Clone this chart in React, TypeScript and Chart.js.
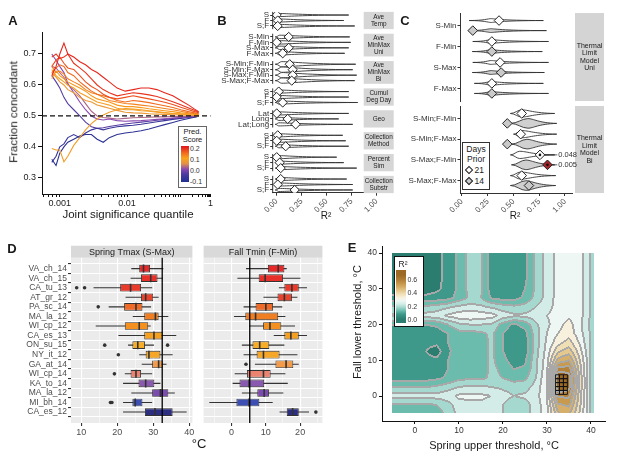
import React, { useEffect, useRef } from 'react';
import { Chart, registerables, LogarithmicScale } from 'chart.js';

Chart.register(...registerables);

const FONT = "'Liberation Sans', Arial, Helvetica, sans-serif";
Chart.defaults.font.family = FONT;
Chart.defaults.color = '#333';

// quantile axis (compressed log) used by panel A
const QUANT_POW = 1.46;
class QuantileScale extends (LogarithmicScale as any) {
  static id = 'quantile';
  static defaults = {};
  tf(v: number) {
    const c = Math.min(Math.max(v, 1e-12), 1);
    return -Math.pow(-Math.log10(c), QUANT_POW);
  }
  getPixelForValue(value: number) {
    if (value === null || value === undefined || isNaN(value)) return NaN;
    const a = this.tf(this.min), b = this.tf(this.max);
    return this.getPixelForDecimal((this.tf(value) - a) / (b - a));
  }
  getValueForPixel(pixel: number) {
    const a = this.tf(this.min), b = this.tf(this.max);
    const t = a + this.getDecimalForPixel(pixel) * (b - a);
    return Math.pow(10, -Math.pow(Math.max(-t, 0), 1 / QUANT_POW));
  }
}
Chart.register(QuantileScale as any);

// ================= Panel A data =================
const aQuantiles = [0.00078, 0.00089, 0.001, 0.00114, 0.00129, 0.00156, 0.0019, 0.0023, 0.0028, 0.0034, 0.0042, 0.0052, 0.0069, 0.0093, 0.0126, 0.0172, 0.0238, 0.0333, 0.047, 0.069, 0.103, 0.159, 0.227, 0.3];
const aScores = [0.2, 0.19, 0.17, 0.15, 0.13, 0.11, 0.09, 0.07, 0.085, 0.0, 0.02, -0.1, -0.08, -0.04];
const aSeries = [
  [0.63, 0.66, 0.70, 0.735, 0.70, 0.69, 0.675, 0.665, 0.65, 0.64, 0.625, 0.61, 0.59, 0.58, 0.585, 0.59, 0.59, 0.585, 0.575, 0.565, 0.55, 0.535, 0.522, 0.514],
  [0.69, 0.70, 0.685, 0.69, 0.70, 0.67, 0.655, 0.64, 0.62, 0.60, 0.585, 0.575, 0.565, 0.57, 0.575, 0.572, 0.568, 0.563, 0.555, 0.546, 0.536, 0.526, 0.518, 0.512],
  [0.66, 0.68, 0.69, 0.67, 0.655, 0.65, 0.63, 0.61, 0.595, 0.585, 0.57, 0.56, 0.555, 0.56, 0.565, 0.56, 0.555, 0.55, 0.544, 0.537, 0.528, 0.52, 0.514, 0.51],
  [0.64, 0.655, 0.665, 0.66, 0.64, 0.63, 0.61, 0.595, 0.58, 0.57, 0.565, 0.56, 0.55, 0.545, 0.55, 0.547, 0.543, 0.538, 0.533, 0.527, 0.52, 0.514, 0.51, 0.507],
  [0.66, 0.64, 0.645, 0.635, 0.62, 0.61, 0.6, 0.585, 0.575, 0.57, 0.56, 0.55, 0.545, 0.54, 0.538, 0.535, 0.532, 0.528, 0.524, 0.52, 0.515, 0.51, 0.507, 0.505],
  [0.62, 0.645, 0.63, 0.62, 0.61, 0.6, 0.59, 0.58, 0.565, 0.555, 0.55, 0.545, 0.535, 0.53, 0.53, 0.527, 0.523, 0.52, 0.517, 0.514, 0.51, 0.507, 0.505, 0.503],
  [0.65, 0.63, 0.62, 0.61, 0.6, 0.59, 0.575, 0.565, 0.555, 0.545, 0.54, 0.535, 0.525, 0.52, 0.52, 0.517, 0.515, 0.512, 0.51, 0.508, 0.506, 0.504, 0.502, 0.501],
  [0.64, 0.625, 0.61, 0.6, 0.585, 0.575, 0.56, 0.55, 0.545, 0.535, 0.53, 0.525, 0.518, 0.512, 0.51, 0.509, 0.507, 0.506, 0.505, 0.504, 0.503, 0.502, 0.501, 0.5],
  [0.395, 0.39, 0.39, 0.352, 0.37, 0.405, 0.43, 0.455, 0.475, 0.49, 0.503, 0.512, 0.52, 0.524, 0.522, 0.52, 0.517, 0.514, 0.511, 0.508, 0.506, 0.504, 0.502, 0.501],
  [0.70, 0.68, 0.66, 0.64, 0.605, 0.575, 0.545, 0.52, 0.5, 0.49, 0.487, 0.49, 0.485, 0.483, 0.484, 0.485, 0.487, 0.489, 0.491, 0.493, 0.495, 0.497, 0.498, 0.499],
  [0.66, 0.655, 0.64, 0.625, 0.6, 0.585, 0.565, 0.54, 0.515, 0.5, 0.495, 0.493, 0.49, 0.492, 0.494, 0.495, 0.496, 0.497, 0.497, 0.498, 0.498, 0.499, 0.499, 0.5],
  [0.36, 0.34, 0.38, 0.40, 0.415, 0.425, 0.435, 0.44, 0.44, 0.425, 0.415, 0.43, 0.44, 0.445, 0.448, 0.452, 0.458, 0.465, 0.472, 0.479, 0.486, 0.492, 0.496, 0.499],
  [0.35, 0.37, 0.40, 0.41, 0.43, 0.44, 0.43, 0.445, 0.455, 0.46, 0.455, 0.46, 0.465, 0.468, 0.47, 0.473, 0.477, 0.481, 0.485, 0.489, 0.492, 0.495, 0.497, 0.499],
  [0.63, 0.61, 0.59, 0.56, 0.54, 0.52, 0.5, 0.48, 0.465, 0.46, 0.462, 0.466, 0.47, 0.474, 0.477, 0.48, 0.483, 0.486, 0.489, 0.492, 0.494, 0.496, 0.498, 0.499],
];
const aChance = 0.5;
const aYTicks = [0.3, 0.4, 0.5, 0.6, 0.7];
const aXTicks = [0.0006, 0.0007, 0.0008, 0.0009, 0.001, 0.002, 0.003, 0.004, 0.005, 0.006, 0.007, 0.008, 0.009, 0.01, 0.02, 0.03, 0.04, 0.05, 0.06, 0.07, 0.08, 0.09, 0.1, 0.2, 0.3, 0.4, 0.5, 0.6, 0.7, 0.8, 0.9, 1];
const aXLabels = ['0.001', '0.01', '1'];
const aLegendTicks = [0.2, 0.1, 0.0, -0.1];
const aScoreStops: [number, string][] = [[-0.12, '#1f2f8f'], [-0.05, '#4b3aa0'], [0.0, '#8a4ab0'], [0.05, '#e39048'], [0.1, '#f9a41b'], [0.15, '#f26b1f'], [0.21, '#e3191c']];

// ================= Panel B data =================
const bStrips = ['Ave\nTemp', 'Ave\nMinMax\nUni', 'Ave\nMinMax\nBi', 'Cumul\nDeg Day', 'Geo', 'Collection\nMethod', 'Percent\nSim', 'Collection\nSubstr'];
const bRows = [['S', 'F', 'S;F'], ['S-Min', 'F-Min', 'S-Max', 'F-Max'], ['S-Min;F-Min', 'S-Min;F-Max', 'S-Max;F-Min', 'S-Max;F-Max'], ['S', 'F', 'S;F'], ['Lat', 'Long', 'Lat;Long'], ['S', 'F', 'S;F'], ['S', 'F', 'S;F'], ['S', 'F', 'S;F']];
const bObserved = [[0.0, 0.01, 0.01], [0.12, 0.0, 0.12, 0.06], [0.13, 0.16, 0.16, 0.15], [0.02, 0.0, 0.06], [0.0, 0.11, 0.19], [0.01, 0.0, 0.09], [0.0, 0.03, 0.04], [0.04, 0.01, 0.18]];
const bNullMax = [[0.72, 0.67, 0.78], [0.73, 0.74, 0.72, 0.68], [0.79, 0.76, 0.8, 0.78], [0.72, 0.72, 0.81], [0.72, 0.62, 0.76], [0.66, 0.69, 0.72], [0.6, 0.67, 0.8], [0.7, 0.76, 0.76]];
const bNullMin = -0.015;
const bNullMode = [0.02, 0.03, 0.05, 0.02, 0.02, 0.02, 0.02, 0.02];
const bNullDensity = [1, 1.1, 1.7, 1, 1, 1, 1, 1];
const bXTicks = [0, 0.25, 0.5, 0.75, 1];

// ================= Panel C data =================
const cRowsUni = ['S-Min', 'F-Min', 'S-Max', 'F-Max'];
const cRowsBi = ['S-Min;F-Min', 'S-Min;F-Max', 'S-Max;F-Min', 'S-Max;F-Max'];
const cObs21Uni = [0.36, 0.29, 0.37, 0.29];
const cObs14Uni = [0.105, 0.29, 0.38, 0.29];
const cObs21Bi = [0.58, 0.57, 0.757, 0.58];
const cObs14Bi = [0.44, 0.44, 0.83, 0.65];
const cNullMin21Uni = [0.07, 0.105, 0.105, 0.12];
const cNullMax21Uni = [0.79, 0.84, 0.84, 0.79];
const cNullMin14Uni = [0.06, 0.1, 0.1, 0.12];
const cNullMax14Uni = [0.82, 0.78, 0.8, 0.84];
const cNullModeUni = [0.28, 0.28, 0.28, 0.28];
const cNullMin21Bi = [0.47, 0.5, 0.47, 0.47];
const cNullMode21Bi = [0.58, 0.58, 0.56, 0.57];
const cNullMax21Bi = [0.9, 0.92, 0.9, 0.91];
const cNullMin14Bi = [0.47, 0.48, 0.48, 0.47];
const cNullMode14Bi = [0.64, 0.63, 0.62, 0.62];
const cNullMax14Bi = [0.92, 0.92, 0.9, 0.91];
const cP21Bi = [null, null, 0.048, null];
const cP14Bi = [null, null, 0.005, null];
const cXTicks = [0, 0.25, 0.5, 0.75, 1];

// ================= Panel D data =================
const dSites = ['VA_ch_14', 'VA_ch_15', 'CA_tu_13', 'AT_gr_12', 'PA_sc_14', 'MA_la_12', 'WI_cp_12', 'CA_es_13', 'ON_su_15', 'NY_it_12', 'GA_at_14', 'WI_cp_14', 'KA_to_14', 'MA_la_12', 'MI_bh_14', 'CA_es_12'];
const dColors = ['#e8292a', '#e8302a', '#e93a2b', '#e8432c', '#ee6a26', '#f07e22', '#f3901f', '#f6a020', '#f8ad27', '#f6a727', '#f39a4b', '#ea8470', '#8a5ab0', '#7b4cae', '#3d4fb2', '#2c2e82'];
const sLo = [23.9, 23.7, 13.4, 22.3, 17.6, 24.3, 14.0, 20.3, 23.0, 26.1, 26.8, 22.1, 21.6, 23.9, 21.6, 21.6];
const sQ1 = [26.1, 26.6, 20.8, 26.6, 21.9, 27.5, 22.1, 27.5, 24.2, 27.9, 29.7, 23.7, 25.9, 29.7, 24.2, 27.7];
const sMed = [27.3, 29.3, 23.7, 27.9, 25.2, 30.6, 26.1, 30.2, 25.7, 28.8, 31.5, 25.2, 27.9, 32.0, 25.0, 30.5];
const sQ3 = [29.1, 31.2, 26.6, 30.0, 27.0, 31.5, 28.6, 32.6, 27.7, 32.0, 32.6, 26.6, 30.3, 34.2, 27.0, 35.4];
const sHi = [32.8, 32.7, 29.7, 31.5, 29.4, 34.2, 29.3, 36.4, 30.2, 35.4, 33.7, 29.7, 32.0, 36.0, 29.7, 39.3];
const sOutRow = [2, 2, 4, 8, 8, 9, 11, 14, 14];
const sOutVal = [8.7, 10.9, 14.7, 16.5, 34.0, 20.3, 19.2, 18.1, 18.5];
const fLo = [4.2, 1.7, 13.8, 9.3, 3.5, 0.7, 5.1, 12.3, 3.0, 3.5, 6.8, 0.9, 0.3, 3.0, -6.5, 14.0];
const fQ1 = [10.6, 7.9, 15.4, 13.4, 7.0, 4.0, 9.2, 15.4, 6.1, 7.3, 12.8, 4.5, 2.3, 7.5, 1.4, 16.1];
const fMed = [13.6, 9.8, 17.6, 15.4, 10.0, 7.0, 11.2, 17.3, 8.2, 9.3, 15.9, 9.3, 5.1, 9.5, 5.1, 17.8];
const fQ3 = [15.4, 15.0, 19.6, 17.6, 12.1, 13.6, 14.5, 19.6, 11.0, 14.0, 18.0, 11.4, 9.5, 10.9, 8.1, 19.6];
const fHi = [16.1, 20.1, 22.0, 19.2, 14.8, 15.7, 18.5, 22.0, 15.4, 19.2, 19.6, 15.7, 16.4, 15.1, 12.0, 22.6];
const fOutRow = [10, 15];
const fOutVal = [4.2, 24.6];
const dSpringThreshold = 32.5;
const dFallThreshold = 5.3;
const dSpringTicks = [10, 15, 20, 25, 30, 35, 40];
const dSpringMajor = [10, 20, 30, 40];
const dFallTicks = [-5, 0, 5, 10, 15, 20, 25];
const dFallMajor = [0, 10, 20];

// ================= Panel E data =================
const eX = [-5, -2.5, 0, 2.5, 5, 7.5, 10, 12.5, 15, 17.5, 20, 22.5, 25, 27.5, 30, 32.5, 35, 37.5, 40];
const eY = [40, 37.5, 35, 32.5, 30, 27.5, 25, 22.5, 20, 17.5, 15, 12.5, 10, 7.5, 5, 2.5, 0, -2.5, -5];
const eR2 = [
  [0.03, 0.03, 0.03, 0.03, 0.035, 0.07, 0.11, 0.17, 0.16, 0.07, 0.06, 0.06, 0.09, 0.16, 0.22, 0.27, 0.28, 0.27, 0.19],
  [0.03, 0.03, 0.03, 0.03, 0.035, 0.07, 0.11, 0.17, 0.16, 0.07, 0.06, 0.06, 0.09, 0.16, 0.22, 0.27, 0.28, 0.27, 0.19],
  [0.03, 0.03, 0.03, 0.03, 0.035, 0.07, 0.11, 0.17, 0.16, 0.07, 0.06, 0.06, 0.09, 0.16, 0.22, 0.27, 0.28, 0.27, 0.19],
  [0.03, 0.03, 0.03, 0.03, 0.035, 0.07, 0.11, 0.17, 0.16, 0.07, 0.06, 0.06, 0.09, 0.16, 0.22, 0.27, 0.28, 0.27, 0.19],
  [0.03, 0.03, 0.03, 0.03, 0.04, 0.07, 0.11, 0.17, 0.16, 0.07, 0.06, 0.07, 0.1, 0.16, 0.22, 0.27, 0.28, 0.27, 0.19],
  [0.06, 0.06, 0.06, 0.06, 0.07, 0.08, 0.12, 0.16, 0.15, 0.09, 0.08, 0.08, 0.11, 0.17, 0.22, 0.27, 0.28, 0.27, 0.19],
  [0.16, 0.16, 0.16, 0.16, 0.17, 0.19, 0.21, 0.22, 0.21, 0.19, 0.17, 0.16, 0.17, 0.2, 0.23, 0.27, 0.28, 0.27, 0.19],
  [0.21, 0.21, 0.21, 0.22, 0.23, 0.26, 0.28, 0.29, 0.28, 0.27, 0.23, 0.21, 0.21, 0.23, 0.25, 0.27, 0.29, 0.27, 0.19],
  [0.1, 0.1, 0.1, 0.1, 0.11, 0.15, 0.19, 0.2, 0.2, 0.19, 0.13, 0.09, 0.12, 0.19, 0.24, 0.28, 0.32, 0.26, 0.19],
  [0.07, 0.07, 0.07, 0.07, 0.07, 0.1, 0.13, 0.13, 0.14, 0.16, 0.1, 0.06, 0.08, 0.18, 0.25, 0.3, 0.33, 0.27, 0.19],
  [0.07, 0.07, 0.07, 0.06, 0.06, 0.1, 0.13, 0.13, 0.13, 0.16, 0.1, 0.05, 0.07, 0.18, 0.26, 0.33, 0.37, 0.29, 0.19],
  [0.07, 0.07, 0.07, 0.05, 0.03, 0.09, 0.13, 0.13, 0.13, 0.16, 0.1, 0.05, 0.07, 0.18, 0.27, 0.39, 0.43, 0.32, 0.19],
  [0.07, 0.07, 0.07, 0.06, 0.06, 0.1, 0.13, 0.13, 0.13, 0.16, 0.12, 0.07, 0.09, 0.19, 0.28, 0.47, 0.5, 0.35, 0.19],
  [0.07, 0.07, 0.07, 0.07, 0.07, 0.1, 0.13, 0.13, 0.13, 0.16, 0.14, 0.1, 0.11, 0.19, 0.29, 0.57, 0.58, 0.37, 0.19],
  [0.08, 0.08, 0.08, 0.08, 0.09, 0.11, 0.14, 0.14, 0.14, 0.16, 0.15, 0.13, 0.14, 0.2, 0.3, 0.66, 0.63, 0.38, 0.19],
  [0.15, 0.15, 0.15, 0.15, 0.16, 0.18, 0.2, 0.21, 0.21, 0.2, 0.19, 0.18, 0.18, 0.22, 0.3, 0.65, 0.62, 0.38, 0.19],
  [0.22, 0.22, 0.22, 0.22, 0.22, 0.23, 0.26, 0.26, 0.26, 0.25, 0.22, 0.2, 0.21, 0.23, 0.3, 0.56, 0.56, 0.37, 0.19],
  [0.14, 0.14, 0.14, 0.14, 0.15, 0.18, 0.23, 0.24, 0.24, 0.22, 0.2, 0.16, 0.18, 0.22, 0.29, 0.49, 0.51, 0.36, 0.19],
  [0.12, 0.12, 0.12, 0.12, 0.13, 0.16, 0.22, 0.23, 0.23, 0.21, 0.2, 0.17, 0.18, 0.22, 0.28, 0.44, 0.46, 0.34, 0.19],
];
const eDomainX = [-5.2, 40.8];
const eDomainY = [-4.8, 40];
const eBreaks = [0.05, 0.1, 0.15, 0.2, 0.25, 0.3, 0.35, 0.4, 0.45, 0.5, 0.55, 0.6];
const eColors = ['#2b7d70', '#3f998b', '#6cbcae', '#a5d8ce', '#d3ece7', '#eef7f4', '#f7f0dc', '#f0dfb5', '#e4c88e', '#d6b06a', '#c79a4e', '#b5843a', '#9c6a25'];
const eSigX = [32.4, 33.3, 34.2];
const eSigY = [1.0, 2.1, 3.2, 4.3, 5.4];
const eTicks = [0, 10, 20, 30, 40];
const eLegendTicks = [0.6, 0.4, 0.2, 0.0];

// ================= helpers =================
function hexToRgb(h: string) {
  const n = parseInt(h.slice(1), 16);
  return [(n >> 16) & 255, (n >> 8) & 255, n & 255];
}
function scoreColor(v: number) {
  const st = aScoreStops;
  if (v <= st[0][0]) return st[0][1];
  for (let i = 1; i < st.length; i++) {
    if (v <= st[i][0]) {
      const t = (v - st[i - 1][0]) / (st[i][0] - st[i - 1][0]);
      const a = hexToRgb(st[i - 1][1]), b = hexToRgb(st[i][1]);
      const c = a.map((x, k) => Math.round(x + (b[k] - x) * t));
      return `rgb(${c[0]},${c[1]},${c[2]})`;
    }
  }
  return st[st.length - 1][1];
}
const fixedTicks = (vals: number[]) => (s: any) => { s.ticks = vals.map((v) => ({ value: v })); };
const near = (a: number, b: number) => Math.abs(a - b) < 1e-9;

type Violin = { y: number; min: number; mode: number; max: number; h: number; fill: string };
function violinPlugin(items: Violin[], shape: number[]) {
  const [a, b, c, d, e] = shape;
  return {
    id: 'violins',
    beforeDatasetsDraw(chart: any) {
      const { ctx, scales: { x, y } } = chart;
      ctx.save();
      for (const v of items) {
        const yy = y.getPixelForValue(v.y);
        const x0 = x.getPixelForValue(v.min), xm = x.getPixelForValue(v.mode), x1 = x.getPixelForValue(v.max);
        const h = v.h, L = xm - x0, R = x1 - xm;
        ctx.beginPath();
        ctx.moveTo(x0, yy);
        ctx.bezierCurveTo(xm - a * L, yy, xm - b * L, yy - h, xm, yy - h);
        ctx.bezierCurveTo(xm + c * R, yy - h, xm + d * R, yy - h * e, x1, yy);
        ctx.bezierCurveTo(xm + d * R, yy + h * e, xm + c * R, yy + h, xm, yy + h);
        ctx.bezierCurveTo(xm - b * L, yy + h, xm - a * L, yy, x0, yy);
        ctx.closePath();
        ctx.fillStyle = v.fill;
        ctx.fill();
        ctx.strokeStyle = '#333';
        ctx.lineWidth = 0.9;
        ctx.stroke();
      }
      ctx.restore();
    },
  };
}

const baseOpts = {
  animation: false,
  responsive: false,
  events: [],
  plugins: { legend: { display: false }, tooltip: { enabled: false } },
};

// ================= Panel A =================
function makeA() {
  return {
    type: 'scatter',
    data: {
      datasets: aSeries.map((vals, k) => ({
        data: aQuantiles.map((q, i) => ({ x: q, y: vals[i] })),
        showLine: true,
        pointRadius: 0,
        borderWidth: 1.1,
        borderColor: scoreColor(aScores[k]),
        backgroundColor: scoreColor(aScores[k]),
      })),
    },
    options: {
      ...baseOpts,
      layout: { padding: { left: 0, top: 32, right: 2, bottom: 0 } },
      scales: {
        x: {
          type: 'quantile', min: 0.000578, max: 1,
          afterBuildTicks: fixedTicks(aXTicks),
          ticks: { autoSkip: false, maxRotation: 0, minRotation: 0, padding: 1, font: { size: 9 }, color: '#222',
            callback: (v: number) => { const l = aXLabels.find((s) => near(parseFloat(s), v)); return l || ''; } },
          grid: { drawOnChartArea: false, color: '#111', tickLength: 3 },
          border: { color: '#111', width: 1 },
          afterFit: (s: any) => { s.height = 28; },
        },
        y: {
          type: 'linear', min: 0.248, max: 0.771,
          afterBuildTicks: fixedTicks(aYTicks),
          ticks: { padding: 2, font: { size: 9 }, color: '#222', callback: (v: number) => v.toFixed(1) },
          grid: { drawOnChartArea: false, color: '#111', tickLength: 4 },
          border: { color: '#111', width: 1 },
          afterFit: (s: any) => { s.width = 42; },
        },
      },
    },
    plugins: [{
      id: 'chance',
      afterDatasetsDraw(chart: any) {
        const { ctx, chartArea, scales: { y } } = chart;
        const py = y.getPixelForValue(aChance);
        ctx.save();
        ctx.setLineDash([5, 3]);
        ctx.strokeStyle = '#111';
        ctx.lineWidth = 1.3;
        ctx.beginPath();
        ctx.moveTo(chartArea.left, py);
        ctx.lineTo(chartArea.right, py);
        ctx.stroke();
        ctx.restore();
      },
    }],
  };
}

// ================= Panel B =================
const bGroupStart: number[] = [];
const bLabelAt: string[] = [];
bRows.forEach((rows, g) => {
  if (g > 0) bLabelAt.push('');
  bGroupStart.push(bLabelAt.length);
  rows.forEach((r) => bLabelAt.push(r));
});
const bRowIdx: number[] = [];
bRows.forEach((rows, g) => rows.forEach((_, r) => bRowIdx.push(bGroupStart[g] + r)));

function makeB() {
  const points: any[] = [];
  const violins: Violin[] = [];
  bRows.forEach((rows, g) => rows.forEach((_, r) => {
    const yi = bGroupStart[g] + r;
    points.push({ x: bObserved[g][r], y: yi });
    violins.push({ y: yi, min: bNullMin, mode: bNullMode[g], max: bNullMax[g][r], h: 1.55 * bNullDensity[g], fill: '#ffffff' });
  }));
  return {
    type: 'scatter',
    data: { datasets: [{ data: points, pointStyle: 'rectRot', pointRadius: 4.6, pointBackgroundColor: '#fff', pointBorderColor: '#222', pointBorderWidth: 1 }] },
    options: {
      ...baseOpts,
      layout: { padding: { left: 0, top: 12.3, right: 19.3, bottom: 0 } },
      scales: {
        x: {
          type: 'linear', min: -0.04, max: 1.04,
          afterBuildTicks: fixedTicks(bXTicks),
          ticks: { autoSkip: false, minRotation: 45, maxRotation: 45, padding: 1, font: { size: 8 }, color: '#4d4d4d', callback: (v: number) => v.toFixed(2) },
          grid: { drawOnChartArea: false, color: '#333', tickLength: 3 },
          border: { color: '#333', width: 1 },
          afterFit: (s: any) => { s.height = 29.3; },
        },
        y: {
          type: 'linear', reverse: true, min: -0.5, max: bLabelAt.length - 0.5,
          afterBuildTicks: fixedTicks(bRowIdx),
          ticks: { autoSkip: false, padding: 1, font: { size: 8 }, color: '#333', callback: (v: number) => bLabelAt[v] || '' },
          grid: { drawOnChartArea: false, color: '#333', tickLength: 2.5 },
          border: { display: false },
          afterFit: (s: any) => { s.width = 58.7; },
        },
      },
    },
    plugins: [violinPlugin(violins, [0.5, 0.3, 0.12, 0.3, 0.1]), {
      id: 'bStrips',
      afterDatasetsDraw(chart: any) {
        const { ctx, chartArea, scales: { y } } = chart;
        const pitch = Math.abs(y.getPixelForValue(1) - y.getPixelForValue(0));
        ctx.save();
        bRows.forEach((rows, g) => {
          const top = y.getPixelForValue(bGroupStart[g]) - pitch * 0.58;
          const bot = y.getPixelForValue(bGroupStart[g] + rows.length - 1) + pitch * 0.58;
          ctx.strokeStyle = '#333';
          ctx.lineWidth = 1;
          ctx.beginPath();
          ctx.moveTo(chartArea.left, top);
          ctx.lineTo(chartArea.left, bot);
          ctx.stroke();
          const left = chartArea.right - 17, w = 30;
          ctx.fillStyle = '#d6d6d6';
          ctx.fillRect(left, top, w, bot - top);
          const lines = bStrips[g].split('\n');
          ctx.fillStyle = '#1a1a1a';
          ctx.font = `6.4px ${FONT}`;
          ctx.textAlign = 'center';
          ctx.textBaseline = 'middle';
          const lh = 7;
          const cy = (top + bot) / 2;
          lines.forEach((ln, k) => ctx.fillText(ln, left + w / 2, cy + (k - (lines.length - 1) / 2) * lh));
        });
        ctx.restore();
      },
    }],
  };
}

// ================= Panel C =================
function makeC(bi: boolean) {
  const rows = bi ? cRowsBi : cRowsUni;
  const o21 = bi ? cObs21Bi : cObs21Uni;
  const o14 = bi ? cObs14Bi : cObs14Uni;
  const min21 = bi ? cNullMin21Bi : cNullMin21Uni;
  const max21 = bi ? cNullMax21Bi : cNullMax21Uni;
  const mode21 = bi ? cNullMode21Bi : cNullModeUni;
  const min14 = bi ? cNullMin14Bi : cNullMin14Uni;
  const max14 = bi ? cNullMax14Bi : cNullMax14Uni;
  const mode14 = bi ? cNullMode14Bi : cNullModeUni;
  const p21 = bi ? cP21Bi : [null, null, null, null];
  const p14 = bi ? cP14Bi : [null, null, null, null];
  const dodge = 0.24;
  const violins: Violin[] = [];
  rows.forEach((_, i) => {
    violins.push({ y: i - dodge, min: min21[i], mode: mode21[i], max: max21[i], h: bi ? 3.6 : 1.9, fill: '#ffffff' });
    violins.push({ y: i + dodge, min: min14[i], mode: mode14[i], max: max14[i], h: bi ? 4.8 : 1.9, fill: '#d0d0d0' });
  });
  const sigDots: any[] = [];
  rows.forEach((_, i) => {
    if (p21[i] !== null && (p21[i] as number) < 0.05) sigDots.push({ x: o21[i], y: i - dodge });
    if (p14[i] !== null && (p14[i] as number) < 0.05) sigDots.push({ x: o14[i], y: i + dodge });
  });
  const shape = bi ? [0.6, 0.35, 0.2, 0.35, 0.12] : [0.3, 0.12, 0.08, 0.14, 0.06];
  return {
    type: 'scatter',
    data: {
      datasets: [
        { data: sigDots, pointRadius: 1.3, pointBackgroundColor: '#111', pointBorderWidth: 0 },
        { data: rows.map((_, i) => ({ x: o21[i], y: i - dodge })), pointStyle: 'rectRot', pointRadius: 4.8, pointBackgroundColor: '#fff', pointBorderColor: '#222', pointBorderWidth: 1 },
        { data: rows.map((_, i) => ({ x: o14[i], y: i + dodge })), pointStyle: 'rectRot', pointRadius: 4.8,
          pointBackgroundColor: rows.map((_, i) => (p14[i] !== null && (p14[i] as number) < 0.01 ? '#a8232a' : '#c9c9c9')), pointBorderColor: '#222', pointBorderWidth: 1 },
      ],
    },
    options: {
      ...baseOpts,
      layout: { padding: { left: 0, top: bi ? 12 : 13, right: 45, bottom: 0 } },
      scales: {
        x: {
          type: 'linear', min: -0.019, max: 1.068,
          afterBuildTicks: fixedTicks(cXTicks),
          ticks: { display: bi, autoSkip: false, minRotation: 45, maxRotation: 45, padding: 1, font: { size: 8 }, color: '#4d4d4d', callback: (v: number) => v.toFixed(2) },
          grid: { display: bi, drawOnChartArea: false, color: '#333', tickLength: 3 },
          border: { display: bi, color: '#333', width: 1 },
          afterFit: (s: any) => { s.height = bi ? 29 : 10; },
        },
        y: {
          type: 'linear', reverse: true, min: -0.6, max: 3.6,
          afterBuildTicks: fixedTicks([0, 1, 2, 3]),
          ticks: { autoSkip: false, padding: 1, font: { size: 8 }, color: '#333', callback: (v: number) => rows[v] || '' },
          grid: { drawOnChartArea: false, color: '#333', tickLength: 2.5 },
          border: { color: '#333', width: 1 },
          afterFit: (s: any) => { s.width = 60; },
        },
      },
    },
    plugins: [violinPlugin(violins, shape), {
      id: 'cExtras',
      afterDatasetsDraw(chart: any) {
        const { ctx, chartArea, scales: { x, y } } = chart;
        ctx.save();
        const left = chartArea.right + 3, w = 29;
        ctx.fillStyle = '#d4d4d4';
        ctx.fillRect(left, chartArea.top, w, chartArea.bottom - chartArea.top);
        const lines = ['Thermal', 'Limit', 'Model', bi ? 'Bi' : 'Uni'];
        ctx.fillStyle = '#1a1a1a';
        ctx.font = `7px ${FONT}`;
        ctx.textAlign = 'center';
        ctx.textBaseline = 'middle';
        const cy = (chartArea.top + chartArea.bottom) / 2;
        lines.forEach((ln, k) => ctx.fillText(ln, left + w / 2, cy + (k - 1.5) * 7.4));
        // p-value labels
        ctx.font = `7.5px ${FONT}`;
        ctx.textAlign = 'left';
        ctx.strokeStyle = '#333';
        ctx.lineWidth = 0.8;
        const drawP = (p: number | null, xv: number, yv: number) => {
          if (p === null) return;
          const px = x.getPixelForValue(xv) + 5, tx = x.getPixelForValue(0.925), py = y.getPixelForValue(yv);
          ctx.beginPath(); ctx.moveTo(px, py); ctx.lineTo(tx, py); ctx.stroke();
          ctx.fillStyle = '#333';
          ctx.fillText(p.toFixed(3), tx + 1, py + 0.5);
        };
        rows.forEach((_, i) => { drawP(p21[i], o21[i], i - dodge); drawP(p14[i], o14[i], i + dodge); });
        ctx.restore();
      },
    }],
  };
}

// ================= Panel D =================
function makeD(spring: boolean) {
  const lo = spring ? sLo : fLo, q1 = spring ? sQ1 : fQ1, med = spring ? sMed : fMed, q3 = spring ? sQ3 : fQ3, hi = spring ? sHi : fHi;
  const outR = spring ? sOutRow : fOutRow, outV = spring ? sOutVal : fOutVal;
  const ticks = spring ? dSpringTicks : dFallTicks, majors = spring ? dSpringMajor : dFallMajor;
  const thr = spring ? dSpringThreshold : dFallThreshold;
  const idx = dSites.map((_, i) => i);
  const isMajor = (v: any) => majors.some((m) => near(m, v));
  return {
    type: 'bar',
    data: {
      datasets: [
        { type: 'scatter', indexAxis: 'x', data: outR.map((r, k) => ({ x: outV[k], y: r })), pointRadius: 1.8, pointBackgroundColor: '#333', pointBorderWidth: 0, order: 1 },
        { type: 'scatter', indexAxis: 'x', data: idx.map((i) => ({ x: med[i], y: i })), pointStyle: 'line', pointRotation: 90, pointRadius: 4, pointBorderColor: '#333', pointBorderWidth: 1.6, order: 2 },
        { type: 'bar', data: idx.map((i) => ({ y: i, x: [q1[i], q3[i]] })), backgroundColor: dColors, borderColor: '#333', borderWidth: 0.9, borderSkipped: false, grouped: false, categoryPercentage: 1, barPercentage: 0.8, order: 3 },
        { type: 'bar', data: idx.map((i) => ({ y: i, x: [lo[i], hi[i]] })), backgroundColor: '#333', borderWidth: 0, grouped: false, categoryPercentage: 1, barPercentage: 0.11, order: 4 },
      ],
    },
    options: {
      ...baseOpts,
      indexAxis: 'y',
      layout: { padding: { left: 0, top: 17.7, right: spring ? 1.3 : 3, bottom: 0 } },
      scales: {
        x: {
          type: 'linear', min: spring ? 7.12 : -8.17, max: spring ? 40.9 : 26.5,
          afterBuildTicks: fixedTicks(ticks),
          ticks: { autoSkip: false, maxRotation: 0, padding: 1, font: { size: 9 }, color: '#4d4d4d', callback: (v: number) => (isMajor(v) ? String(v) : '') },
          grid: { color: '#ffffff', lineWidth: (c: any) => (isMajor(c.tick && c.tick.value) ? 1.1 : 0.5), tickColor: (c: any) => (isMajor(c.tick && c.tick.value) ? '#333' : 'rgba(0,0,0,0)'), tickLength: 3 },
          border: { display: false },
          afterFit: (s: any) => { s.height = 33; },
        },
        y: {
          type: 'linear', reverse: true, min: -0.6, max: dSites.length - 0.4,
          afterBuildTicks: fixedTicks(idx),
          ticks: { display: spring, autoSkip: false, padding: 1, font: { size: 8.5 }, color: '#4d4d4d', callback: (v: number) => dSites[v] || '' },
          grid: { color: '#ffffff', lineWidth: 1.1, tickColor: '#333', tickLength: 3, drawTicks: spring },
          border: { display: false },
          afterFit: (s: any) => { s.width = spring ? 71 : 2.7; },
        },
      },
    },
    plugins: [{
      id: 'dPanel',
      beforeDraw(chart: any) {
        const { ctx, chartArea } = chart;
        ctx.save();
        ctx.fillStyle = '#ebebeb';
        ctx.fillRect(chartArea.left, chartArea.top, chartArea.right - chartArea.left, chartArea.bottom - chartArea.top);
        ctx.fillStyle = '#d9d9d9';
        ctx.fillRect(chartArea.left, chartArea.top - 12, chartArea.right - chartArea.left, 12);
        ctx.fillStyle = '#1a1a1a';
        ctx.font = `9px ${FONT}`;
        ctx.textAlign = 'center';
        ctx.textBaseline = 'middle';
        ctx.fillText(spring ? 'Spring Tmax (S-Max)' : 'Fall Tmin (F-Min)', (chartArea.left + chartArea.right) / 2, chartArea.top - 5.5);
        ctx.restore();
      },
      afterDatasetsDraw(chart: any) {
        const { ctx, chartArea, scales: { x } } = chart;
        const px = x.getPixelForValue(thr);
        ctx.save();
        ctx.strokeStyle = '#000';
        ctx.lineWidth = 1.3;
        ctx.beginPath();
        ctx.moveTo(px, chartArea.top);
        ctx.lineTo(px, chartArea.bottom);
        ctx.stroke();
        ctx.restore();
      },
    }],
  };
}

// ================= Panel E =================
function sampleGrid(vx: number, vy: number) {
  const nx = eX.length, ny = eY.length;
  let fx = (vx - eX[0]) / (eX[1] - eX[0]);
  let fy = (eY[0] - vy) / (eY[0] - eY[1]);
  fx = Math.min(Math.max(fx, 0), nx - 1);
  fy = Math.min(Math.max(fy, 0), ny - 1);
  const i0 = Math.min(Math.floor(fx), nx - 2), j0 = Math.min(Math.floor(fy), ny - 2);
  const tx = fx - i0, ty = fy - j0;
  const a = eR2[j0][i0], b = eR2[j0][i0 + 1], c = eR2[j0 + 1][i0], d = eR2[j0 + 1][i0 + 1];
  return a * (1 - tx) * (1 - ty) + b * tx * (1 - ty) + c * (1 - tx) * ty + d * tx * ty;
}
function bandOf(v: number) {
  let k = 0;
  while (k < eBreaks.length && v >= eBreaks[k]) k++;
  return k;
}

function makeE() {
  const sig: any[] = [];
  eSigX.forEach((sx) => eSigY.forEach((sy) => sig.push({ x: sx, y: sy })));
  return {
    type: 'scatter',
    data: { datasets: [{ data: sig, pointStyle: 'rect', pointRadius: 2.8, pointBackgroundColor: 'rgba(0,0,0,0)', pointBorderColor: '#111', pointBorderWidth: 0.9 }] },
    options: {
      ...baseOpts,
      layout: { padding: { left: 0, top: 10, right: 12, bottom: 0 } },
      scales: {
        x: {
          type: 'linear', min: -7.5, max: 43.2,
          afterBuildTicks: fixedTicks(eTicks),
          ticks: { autoSkip: false, maxRotation: 0, padding: 2, font: { size: 8.5 }, color: '#333' },
          grid: { drawOnChartArea: false, color: '#111', tickLength: 3 },
          border: { color: '#111', width: 1 },
          afterFit: (s: any) => { s.height = 35; },
        },
        y: {
          type: 'linear', min: -7, max: 42,
          afterBuildTicks: fixedTicks(eTicks),
          ticks: { autoSkip: false, padding: 2, font: { size: 8.5 }, color: '#333' },
          grid: { drawOnChartArea: false, color: '#111', tickLength: 3 },
          border: { color: '#111', width: 1 },
          afterFit: (s: any) => { s.width = 52; },
        },
      },
    },
    plugins: [{
      id: 'heat',
      beforeDatasetsDraw(chart: any) {
        const { ctx, scales: { x, y } } = chart;
        const left = Math.round(x.getPixelForValue(eDomainX[0]));
        const right = Math.round(x.getPixelForValue(eDomainX[1]));
        const top = Math.round(y.getPixelForValue(eDomainY[1]));
        const bottom = Math.round(y.getPixelForValue(eDomainY[0]));
        const w = right - left, h = bottom - top;
        if (w <= 0 || h <= 0) return;
        const band = new Int16Array(w * h);
        for (let j = 0; j < h; j++) {
          const vy = y.getValueForPixel(top + j + 0.5);
          for (let i = 0; i < w; i++) {
            const vx = x.getValueForPixel(left + i + 0.5);
            band[j * w + i] = bandOf(sampleGrid(vx, vy));
          }
        }
        const off = document.createElement('canvas');
        off.width = w;
        off.height = h;
        const octx = off.getContext('2d') as CanvasRenderingContext2D;
        const img = octx.createImageData(w, h);
        const rgb = eColors.map(hexToRgb);
        const line = hexToRgb('#a8a8a8');
        for (let k = 0; k < w * h; k++) {
          const b = band[k];
          const i = k % w, j = (k / w) | 0;
          const edge = (i + 1 < w && band[k + 1] !== b) || (i > 0 && band[k - 1] !== b) || (j + 1 < h && band[k + w] !== b) || (j > 0 && band[k - w] !== b);
          const c = edge ? line : rgb[b];
          img.data[k * 4] = c[0];
          img.data[k * 4 + 1] = c[1];
          img.data[k * 4 + 2] = c[2];
          img.data[k * 4 + 3] = 255;
        }
        octx.putImageData(img, 0, 0);
        ctx.drawImage(off, left, top);
      },
    }],
  };
}

// ================= components =================
function ChartCanvas({ left, top, width, height, make }: any) {
  const ref = useRef<HTMLCanvasElement>(null);
  useEffect(() => {
    const chart = new Chart(ref.current as HTMLCanvasElement, make() as any);
    return () => chart.destroy();
  }, []);
  return <canvas ref={ref} width={width} height={height} style={{ position: 'absolute', left, top, width, height }} />;
}

function Txt({ x, y, children, size = 10, bold = false, rot = 0, color = '#1a1a1a', anchor = 'center' }: any) {
  const tx = anchor === 'left' ? '0' : anchor === 'right' ? '-100%' : '-50%';
  return (
    <div style={{ position: 'absolute', left: x, top: y, transform: `translate(${tx}, -50%) rotate(${rot}deg)`, fontSize: size, fontWeight: bold ? 700 : 400, whiteSpace: 'nowrap', lineHeight: 1, color }}>
      {children}
    </div>
  );
}

function gradientCss(stops: [number, string][], topV: number, botV: number) {
  const parts = stops.slice().reverse().map(([v, c]) => `${c} ${(((topV - v) / (topV - botV)) * 100).toFixed(1)}%`);
  return `linear-gradient(to bottom, ${parts.join(', ')})`;
}

function Diamond({ x, y, fill }: any) {
  return <div style={{ position: 'absolute', left: x - 3, top: y - 3, width: 6, height: 6, background: fill, border: '1px solid #222', boxSizing: 'border-box', transform: 'rotate(45deg)' }} />;
}

export default function App() {
  const eStops: [number, string][] = eColors.map((c, k) => [k === 0 ? 0.0 : k === eColors.length - 1 ? 0.66 : (eBreaks[k - 1] + eBreaks[k]) / 2, c] as [number, string]);
  return (
    <div style={{ position: 'absolute', left: 0, top: 0, width: 617, height: 456, background: '#fff', overflow: 'hidden', fontFamily: FONT, color: '#1a1a1a' }}>
      <ChartCanvas left={0} top={0} width={214} height={222} make={makeA} />
      <ChartCanvas left={214} top={0} width={186} height={222} make={makeB} />
      <ChartCanvas left={400} top={0} width={217} height={111} make={() => makeC(false)} />
      <ChartCanvas left={400} top={94} width={217} height={128} make={() => makeC(true)} />
      <ChartCanvas left={0} top={240} width={198} height={216} make={() => makeD(true)} />
      <ChartCanvas left={198} top={240} width={130} height={216} make={() => makeD(false)} />
      <ChartCanvas left={330} top={236} width={287} height={220} make={makeE} />

      {/* panel letters */}
      <Txt x={13} y={20} size={13} bold>A</Txt>
      <Txt x={222} y={20} size={13} bold>B</Txt>
      <Txt x={405} y={20} size={13} bold>C</Txt>
      <Txt x={12} y={248} size={13} bold>D</Txt>
      <Txt x={352} y={247} size={13} bold>E</Txt>

      {/* axis titles */}
      <Txt x={14} y={112} size={11.5} rot={-90}>Fraction concordant</Txt>
      <Txt x={128} y={215} size={11.5}>Joint significance quantile</Txt>
      <Txt x={326} y={216} size={10}>R²</Txt>
      <Txt x={515} y={216} size={10}>R²</Txt>
      <Txt x={199} y={443} size={13}>°C</Txt>
      <Txt x={494} y={445} size={11}>Spring upper threshold, °C</Txt>
      <Txt x={357} y={322} size={11} rot={-90}>Fall lower threshold, °C</Txt>

      {/* A legend */}
      <div style={{ position: 'absolute', left: 178, top: 126, width: 29, height: 62, border: '1px solid #666', boxSizing: 'border-box', background: '#fff' }} />
      <Txt x={192.5} y={131.5} size={7.5}>Pred.</Txt>
      <Txt x={192.5} y={139.5} size={7.5}>Score</Txt>
      <div style={{ position: 'absolute', left: 181, top: 146, width: 8, height: 36, background: gradientCss(aScoreStops, 0.215, -0.12) }} />
      {aLegendTicks.map((v) => (
        <Txt key={v} x={190} y={148 + ((0.2 - v) / 0.1) * 11} size={7} anchor="left" color="#333">{v.toFixed(1)}</Txt>
      ))}

      {/* C legend */}
      <div style={{ position: 'absolute', left: 462, top: 142, width: 28, height: 48, border: '1px solid #333', boxSizing: 'border-box', background: '#fff' }} />
      <Txt x={476} y={149} size={8.5}>Days</Txt>
      <Txt x={476} y={158.5} size={8.5}>Prior</Txt>
      <Diamond x={469} y={170} fill="#fff" />
      <Txt x={474.5} y={170} size={8.5} anchor="left">21</Txt>
      <Diamond x={469} y={181} fill="#c9c9c9" />
      <Txt x={474.5} y={181} size={8.5} anchor="left">14</Txt>

      {/* E legend */}
      <div style={{ position: 'absolute', left: 394, top: 256, width: 30, height: 71, border: '1px solid #111', boxSizing: 'border-box', background: '#fff' }} />
      <Txt x={403} y={263.5} size={8.5}>R²</Txt>
      <div style={{ position: 'absolute', left: 396, top: 270, width: 10, height: 53, background: gradientCss(eStops, 0.735, -0.06) }} />
      {eLegendTicks.map((v) => (
        <Txt key={v} x={407.5} y={279 + ((0.6 - v) / 0.2) * 13.3} size={7} anchor="left" color="#333">{v.toFixed(1)}</Txt>
      ))}
    </div>
  );
}
